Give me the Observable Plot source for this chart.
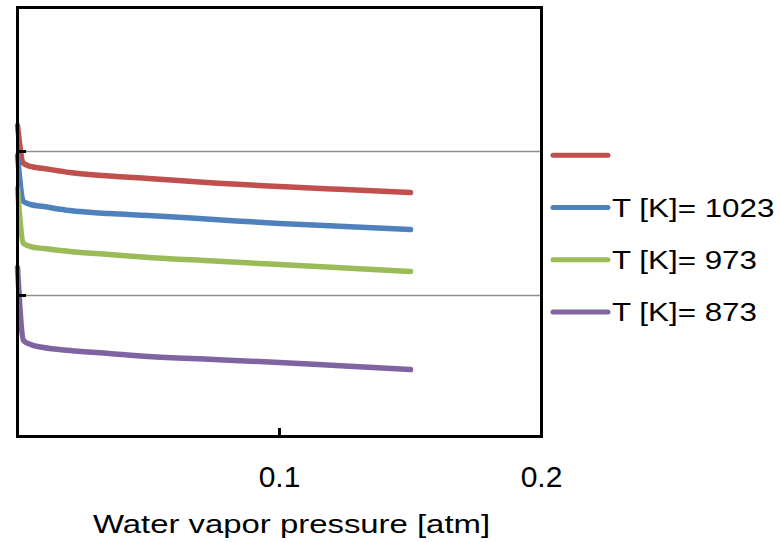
<!DOCTYPE html>
<html><head><meta charset="utf-8">
<script src="https://cdn.jsdelivr.net/npm/d3@7"></script>
<script src="https://cdn.jsdelivr.net/npm/@observablehq/plot@0.6"></script>
<style>
html,body{margin:0;padding:0;background:#fff;}
#chart{width:780px;height:542px;overflow:hidden;}
svg{font-family:"Liberation Sans",Arial,sans-serif;}
</style></head><body><div id="chart"></div>
<script>
// Water vapor pressure [atm]
const pressure = [0, 0.0023, 0.005, 0.01, 0.02, 0.035, 0.05, 0.075, 0.1, 0.125, 0.15];
const seriesNames = ["", "T [K]= 1023", "T [K]= 973", "T [K]= 873"];
const seriesColors = ["#C0504D", "#4F81BD", "#9BBB59", "#8064A2"];
const redValues    = [2.181, 1.917, 1.896, 1.882, 1.854, 1.830, 1.813, 1.781, 1.757, 1.736, 1.715];
const blueValues   = [1.972, 1.653, 1.632, 1.618, 1.590, 1.569, 1.556, 1.528, 1.500, 1.479, 1.458];
const greenValues  = [1.743, 1.361, 1.340, 1.326, 1.306, 1.285, 1.264, 1.240, 1.215, 1.191, 1.167];
const purpleValues = [1.194, 0.688, 0.660, 0.639, 0.618, 0.597, 0.576, 0.556, 0.535, 0.510, 0.486];
const xTickLabels = [0.1, 0.2];
const xInnerTicks = [0.1];
const yGrid = [1, 2];
const yDomain = [0.021, 3];
const xTitle = "Water vapor pressure [atm]";

const seriesValues = [redValues, blueValues, greenValues, purpleValues];
const rows = seriesValues.flatMap((vals, i) => vals.map((v, j) => ({x: pressure[j], y: v, name: seriesNames[i]})));

const chart = Plot.plot({
  width: 780, height: 542,
  marginLeft: 17, marginRight: 239, marginTop: 7, marginBottom: 106,
  style: {fontFamily: '"Liberation Sans", Arial, sans-serif', background: "white", color: "black"},
  x: {domain: [0, 0.2], label: null},
  y: {domain: yDomain, label: null},
  color: {domain: seriesNames, range: seriesColors},
  marks: [
    Plot.ruleY(yGrid, {stroke: "#8e8e8e", strokeWidth: 1.5}),
    Plot.line(rows, {x: "x", y: "y", z: "name", stroke: "name", strokeWidth: 5.5,
      strokeLinecap: "round", strokeLinejoin: "round", curve: "monotone-x"}),
    Plot.axisY(yGrid, {tickSize: 9, dx: 9, strokeWidth: 3, stroke: "black", tickFormat: () => "", label: null}),
    Plot.axisX(xInnerTicks, {tickSize: 8, dy: -8, strokeWidth: 3, stroke: "black", tickFormat: () => "", label: null}),
    Plot.axisX(xTickLabels, {tickSize: 0, tickPadding: 29, fontSize: 30, tickFormat: d => String(d), label: null}),
    Plot.text([xTitle], {frameAnchor: "bottom", dy: 96, dx: 12, fontSize: 26, lineAnchor: "bottom", fill: "black"}),
    Plot.frame({stroke: "black", strokeWidth: 3})
  ]
});
document.getElementById("chart").appendChild(chart);

const svg = d3.select(chart);
svg.selectAll("text").filter(function () { return this.textContent === xTitle; })
  .attr("textLength", 397).attr("lengthAdjust", "spacingAndGlyphs");

// legend
const lg = svg.append("g").attr("aria-label", "legend").attr("text-anchor", "start");
seriesNames.forEach((name, i) => {
  const cy = 155.3 + i * 52.2;
  lg.append("line").attr("x1", 553).attr("x2", 608).attr("y1", cy).attr("y2", cy)
    .attr("stroke", seriesColors[i]).attr("stroke-width", 5).attr("stroke-linecap", "round");
  if (name) {
    lg.append("text").attr("transform", `translate(612,${cy + 9}) scale(1.23,1)`)
      .attr("text-anchor", "start").attr("font-size", 25.5).attr("fill", "black").text(name);
  }
});
</script></body></html>
